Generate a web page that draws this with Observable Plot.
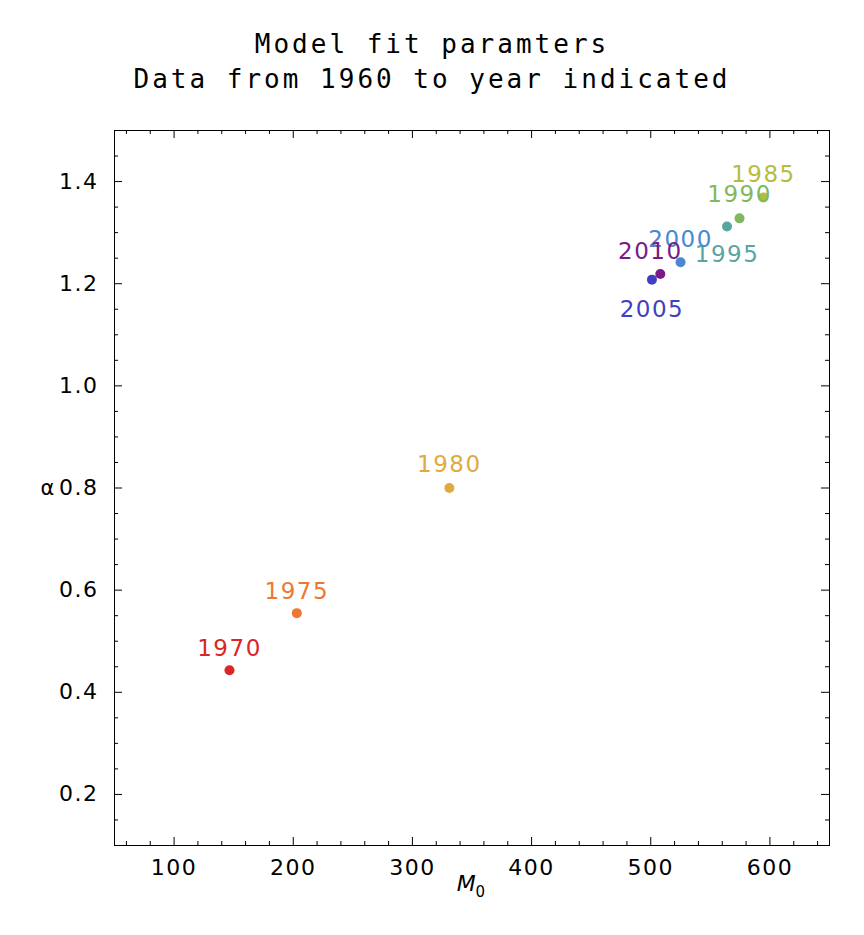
<!DOCTYPE html>
<html><head><meta charset="utf-8">
<script src="https://cdn.jsdelivr.net/npm/d3@7"></script>
<script src="https://cdn.jsdelivr.net/npm/@observablehq/plot@0.6"></script>
<style>
body{margin:0;background:#fff;}
#title{height:115px;box-sizing:border-box;padding-top:27px;text-align:center;font-family:"DejaVu Sans Mono",monospace;font-size:26px;letter-spacing:3px;line-height:35px;color:#000;}
</style></head><body>
<div id="title">Model fit paramters<br>Data from 1960 to year indicated</div>
<div id="chart"></div>
<script>
const years = ["1970","1975","1980","1985","1990","1995","2000","2005","2010"];
const m0 = [146.5, 203, 331, 594.6, 574.5, 564, 525, 501, 508];
const alpha = [0.443, 0.555, 0.800, 1.369, 1.328, 1.312, 1.242, 1.208, 1.219];
const colors = ["#d92626","#ee7733","#e0aa40","#b5bd3e","#80b860","#57a6a2","#4a86d2","#3f3fc6","#7a1a88"];
const labelDx = [0,0,0,0,0,0,0,0,-10];
const labelDy = [-22,-22,-23,-23,-24,28,-23,30,-22];
const xTicks = [100,200,300,400,500,600];
const yTicks = [0.2,0.4,0.6,0.8,1.0,1.2,1.4];

const data = years.map((y,i)=>({year:y,m0:m0[i],alpha:alpha[i],color:colors[i],dx:labelDx[i],dy:labelDy[i]}));
const xMinor = d3.range(60,650,20).filter(v=>!xTicks.includes(v));
const yMinor = d3.range(0.15,1.5,0.05).map(v=>+v.toFixed(2)).filter(v=>!yTicks.some(t=>Math.abs(t-v)<1e-6));
const X0=50,X1=650,Y0=0.1,Y1=1.5;
const pxX = 600/715, pxY = 1.4/715;
const tx = (vals,len)=>[
  Plot.ruleX(vals,{x:d=>d,y1:Y0,y2:Y0+len*pxY,stroke:"#000",strokeWidth:1}),
  Plot.ruleX(vals,{x:d=>d,y1:Y1,y2:Y1-len*pxY,stroke:"#000",strokeWidth:1})];
const ty = (vals,len)=>[
  Plot.ruleY(vals,{y:d=>d,x1:X0,x2:X0+len*pxX,stroke:"#000",strokeWidth:1}),
  Plot.ruleY(vals,{y:d=>d,x1:X1,x2:X1-len*pxX,stroke:"#000",strokeWidth:1})];

const chart = Plot.plot({
  width:864, height:820,
  marginTop:15, marginBottom:90, marginLeft:114, marginRight:35,
  style:{fontFamily:"DejaVu Sans",fontSize:"22px",color:"#000",letterSpacing:"1.5px"},
  x:{domain:[X0,X1],label:null},
  y:{domain:[Y0,Y1],label:null},
  marks:[
    Plot.frame({stroke:"#000",strokeWidth:1}),
    ...tx(xTicks,8), ...tx(xMinor,4),
    ...ty(yTicks,8), ...ty(yMinor,4),
    Plot.axisX({ticks:xTicks,tickSize:0,tickPadding:14,fontSize:22}),
    Plot.axisY({ticks:yTicks,tickSize:0,tickPadding:16,tickFormat:d3.format(".1f"),fontSize:22}),
    Plot.dot(data,{x:"m0",y:"alpha",r:5,fill:d=>d.color,stroke:"none"}),
    Plot.text(data,{x:"m0",y:"alpha",text:"year",fill:d=>d.color,fontSize:23,
      render:(index,scales,values,dims,context,next)=>{
        const g = next(index,scales,values,dims,context);
        d3.select(g).selectAll("text").each(function(_,k){
          const d=data[index[k]];
          d3.select(this).attr("transform",`translate(${values.x[index[k]]+d.dx},${values.y[index[k]]+d.dy})`);
        });
        return g;
      }}),
    Plot.text(["α"],{frameAnchor:"left",dx:-74,fontSize:21,text:d=>d}),
    Plot.text(["M"],{frameAnchor:"bottom",dy:45,dx:-5,fontSize:22,fontStyle:"italic",text:d=>d}),
    Plot.text(["0"],{frameAnchor:"bottom",dy:51,dx:9,fontSize:15,text:d=>d})
  ]
});
document.getElementById("chart").appendChild(chart);
</script></body></html>
